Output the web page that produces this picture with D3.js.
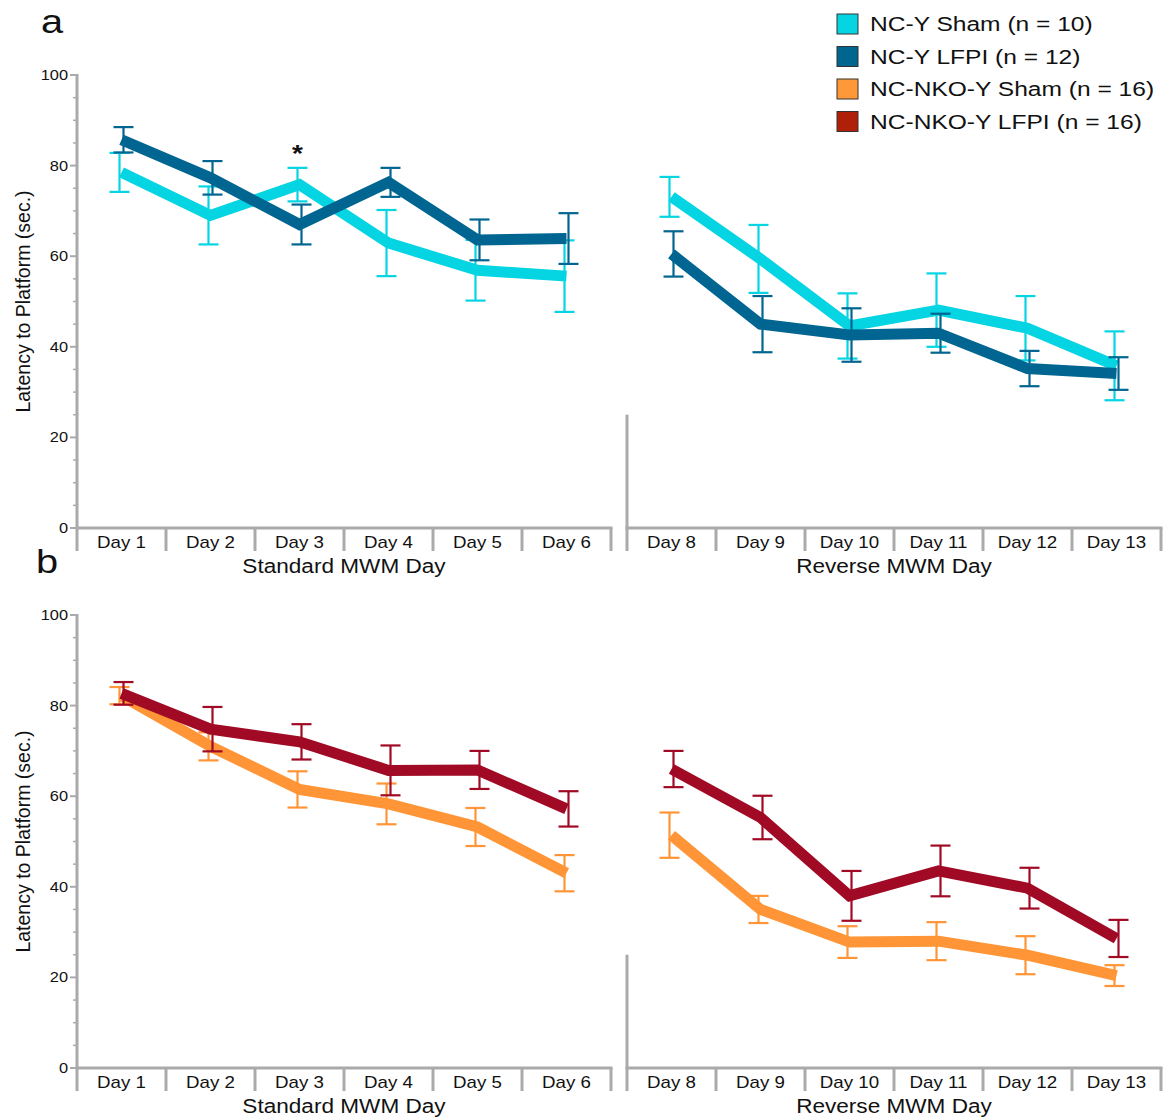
<!DOCTYPE html>
<html>
<head>
<meta charset="utf-8">
<script src="https://cdn.jsdelivr.net/npm/d3@7"></script>
<style>
  body { margin: 0; background: #fff; }
  svg { font-family: "Liberation Sans", Arial, sans-serif; }
</style>
</head>
<body>
<svg id="chart" width="1166" height="1118"></svg>
<script>
// Days of the Morris water maze protocol
const standardDays = ["Day 1", "Day 2", "Day 3", "Day 4", "Day 5", "Day 6"];
const reverseDays = ["Day 8", "Day 9", "Day 10", "Day 11", "Day 12", "Day 13"];
const yTicks = [0, 20, 40, 60, 80, 100];

// Mean latency (sec.) and SEM for each group
const ncySham_std = [78.5, 69.0, 75.8, 62.9, 56.9, 55.6];
const ncySham_stdErr = [4.3, 6.4, 3.7, 7.3, 6.7, 7.9];
const ncySham_rev = [73.1, 59.4, 44.6, 48.1, 44.1, 35.8];
const ncySham_revErr = [4.4, 7.5, 7.2, 8.1, 7.1, 7.6];

const ncyLfpi_std = [85.7, 77.3, 67.0, 76.3, 63.6, 63.9];
const ncyLfpi_stdErr = [2.8, 3.7, 4.4, 3.2, 4.5, 5.6];
const ncyLfpi_rev = [60.5, 45.0, 42.6, 43.0, 35.2, 34.1];
const ncyLfpi_revErr = [5.0, 6.2, 5.9, 4.3, 3.9, 3.6];

const nkoSham_std = [82.2, 71.0, 61.5, 58.3, 53.2, 43.0];
const nkoSham_stdErr = [1.9, 3.1, 4.0, 4.5, 4.2, 4.0];
const nkoSham_rev = [51.4, 35.0, 27.8, 28.0, 24.9, 20.4];
const nkoSham_revErr = [5.0, 3.0, 3.5, 4.2, 4.2, 2.3];

const nkoLfpi_std = [82.7, 74.8, 72.0, 65.7, 65.8, 57.2];
const nkoLfpi_stdErr = [2.5, 4.9, 3.9, 5.5, 4.2, 3.9];
const nkoLfpi_rev = [66.0, 55.3, 38.0, 43.5, 39.7, 28.6];
const nkoLfpi_revErr = [4.0, 4.8, 5.5, 5.6, 4.5, 4.1];

const legendLabels = ["NC-Y Sham (n = 10)", "NC-Y LFPI (n = 12)", "NC-NKO-Y Sham (n = 16)", "NC-NKO-Y LFPI (n = 16)"];
const legendColors = ["#05d4e2", "#006690", "#ff9838", "#b01f08"];

const C = { cyan: "#05d4e2", navy: "#006590", orange: "#ff9536", crimson: "#a00a24", axis: "#aaaaaa" };
const WIDEN = 1.17; // horizontal widening of the lettering

const svg = d3.select("#chart");

// text placed at (x, y) and widened horizontally about its anchor
function label(parent, x, y, str, size, anchor, extra) {
  const t = parent.append("text")
    .attr("transform", `translate(${x},${y}) scale(${WIDEN},1)`)
    .attr("text-anchor", anchor || "start").attr("font-size", size).attr("fill", "#111").text(str);
  if (extra) extra(t);
  return t;
}

function panel(cfg) {
  const g = svg.append("g");
  const y = d3.scaleLinear().domain([0, 100]).range([cfg.y0, cfg.y0 - 453]);
  const xs = d3.scaleBand().domain(standardDays).range([77, 611]);
  const xr = d3.scaleBand().domain(reverseDays).range([627, 1161]);

  // y axis with major and minor ticks
  g.append("line").attr("x1", 77).attr("x2", 77).attr("y1", y(100) - 1).attr("y2", y(0))
    .attr("stroke", C.axis).attr("stroke-width", 3);
  d3.range(0, 101, 5).forEach(v => {
    const major = v % 20 === 0;
    g.append("line").attr("x1", major ? 70 : 73).attr("x2", 77).attr("y1", y(v)).attr("y2", y(v))
      .attr("stroke", C.axis).attr("stroke-width", major ? 2 : 1.5);
  });
  yTicks.forEach(d => label(g, 68, y(d), d, 14, "end", t => t.attr("dy", "0.35em")));
  g.append("text").attr("transform", `translate(30,${y(50)}) rotate(-90)`)
    .attr("text-anchor", "middle").attr("font-size", 19.5).attr("fill", "#111")
    .text("Latency to Platform (sec.)");

  // stub axis for the reverse block
  g.append("line").attr("x1", 627).attr("x2", 627).attr("y1", y(25)).attr("y2", y(0))
    .attr("stroke", C.axis).attr("stroke-width", 3);

  // x axes with day bands
  [[xs, standardDays, "Standard MWM Day"], [xr, reverseDays, "Reverse MWM Day"]].forEach(([x, days, title]) => {
    const r = x.range();
    g.append("line").attr("x1", r[0] - 1.5).attr("x2", r[1] + 1.5).attr("y1", y(0)).attr("y2", y(0))
      .attr("stroke", C.axis).attr("stroke-width", 3);
    const edges = days.map(d => x(d)).concat([r[1]]);
    g.selectAll(null).data(edges).enter().append("line")
      .attr("x1", d => d).attr("x2", d => d).attr("y1", y(0)).attr("y2", y(0) + 23)
      .attr("stroke", C.axis).attr("stroke-width", 3);
    days.forEach(d => label(g, x(d) + x.bandwidth() / 2, y(0) + 20, d, 16, "middle"));
    label(g, (r[0] + r[1]) / 2, y(0) + 45, title, 19.3, "middle");
  });

  // series: lines then error bars
  cfg.series.forEach(s => {
    [[xs, standardDays, s.std, s.stdErr], [xr, reverseDays, s.rev, s.revErr]].forEach(([x, days, vals, errs]) => {
      const cx = (d) => x(d) + x.bandwidth() / 2;
      const line = d3.line().x((v, i) => cx(days[i])).y(v => y(v));
      g.append("path").attr("d", line(vals)).attr("fill", "none")
        .attr("stroke", s.color).attr("stroke-width", 11).attr("stroke-linejoin", "miter");
      const eg = g.append("g").attr("stroke", s.color).attr("stroke-width", 2.2);
      vals.forEach((v, i) => {
        const px = cx(days[i]) + s.dx;
        const top = y(v + errs[i]), bot = y(v - errs[i]);
        eg.append("line").attr("x1", px).attr("x2", px).attr("y1", top).attr("y2", bot);
        eg.append("line").attr("x1", px - 10).attr("x2", px + 10).attr("y1", top).attr("y2", top);
        eg.append("line").attr("x1", px - 10).attr("x2", px + 10).attr("y1", bot).attr("y2", bot);
      });
    });
  });

  label(g, cfg.letterX, y(100) - 42, cfg.letter, 34, "start");
  return { g, y, xs };
}

const a = panel({
  y0: 528, letter: "a", letterX: 41,
  series: [
    { color: C.cyan, dx: -2, std: ncySham_std, stdErr: ncySham_stdErr, rev: ncySham_rev, revErr: ncySham_revErr },
    { color: C.navy, dx: 2, std: ncyLfpi_std, stdErr: ncyLfpi_stdErr, rev: ncyLfpi_rev, revErr: ncyLfpi_revErr }
  ]
});
// significance marker on Day 3
label(a.g, a.xs("Day 3") + a.xs.bandwidth() / 2 - 2, a.y(ncySham_std[2] + ncySham_stdErr[2]) - 6, "*", 24, "middle",
  t => t.attr("font-weight", "bold"));

panel({
  y0: 1068, letter: "b", letterX: 36,
  series: [
    { color: C.orange, dx: -2, std: nkoSham_std, stdErr: nkoSham_stdErr, rev: nkoSham_rev, revErr: nkoSham_revErr },
    { color: C.crimson, dx: 2, std: nkoLfpi_std, stdErr: nkoLfpi_stdErr, rev: nkoLfpi_rev, revErr: nkoLfpi_revErr }
  ]
});

// legend
const lg = svg.append("g").attr("transform", "translate(837,14)");
legendLabels.forEach((t, i) => {
  lg.append("rect").attr("x", 0).attr("y", i * 32.5).attr("width", 21).attr("height", 20)
    .attr("fill", legendColors[i]).attr("stroke", "#333").attr("stroke-width", 1);
  label(lg, 33, i * 32.5 + 10, t, 21, "start", tt => tt.attr("dy", "0.35em"));
});
</script>
</body>
</html>
